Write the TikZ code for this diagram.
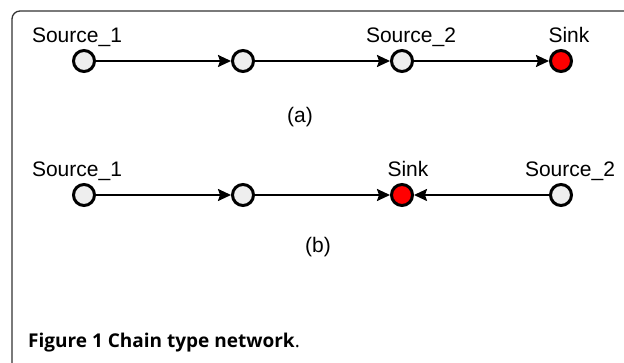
\documentclass[tikz,border=0pt]{standalone}
\usepackage{fontspec}
\setmainfont{Liberation Sans}
\newfontfamily\capfont{Open Sans}
\usetikzlibrary{positioning, arrows.meta}
\definecolor{nodegray}{HTML}{EEEEEE}
\definecolor{sinkred}{HTML}{FF0000}
\definecolor{framegray}{HTML}{333333}
\tikzset{hop/.style={circle, draw=black, line width=3pt, minimum size=21pt, inner sep=0pt, fill=nodegray}}
\tikzset{sinkhop/.style={hop, fill=sinkred}}
\tikzset{lbl/.style={inner sep=0pt, font=\fontsize{21}{24}\selectfont, anchor=base}}
\tikzset{sub/.style={inner sep=0pt, font=\fontsize{21}{24}\selectfont}}
\tikzset{arr/.style={draw, line width=2pt, -{Stealth[length=13pt, width=12pt, inset=2pt]}}}

\begin{document}
\begin{tikzpicture}[x=1pt, y=1pt]
	\useasboundingbox (0,0) rectangle (624,363);
	\draw[framegray, line width=1.3pt, rounded corners=8pt] (12,0) -- (12,352) -- (624,352);
	% chain (a)
	\node[hop] (a1) at (84,302) {};
	\node[hop, right=135pt of a1] (a2) {};
	\node[hop, right=135pt of a2] (a3) {};
	\node[sinkhop, right=135pt of a3] (a4) {};
	\draw[arr] (a1) -- (a2);
	\draw[arr] (a2) -- (a3);
	\draw[arr] (a3) -- (a4);
	\node[lbl] (la1) at ([xshift=-7pt, yshift=6pt]a1.north) {Source\_1};
	\node[lbl] (la3) at ([xshift=9pt, yshift=6pt]a3.north) {Source\_2};
	\node[lbl] (la4) at ([xshift=8pt, yshift=6pt]a4.north) {Sink};
	\node[sub] (capa) at (300,246) {(a)};
	% chain (b)
	\node[hop] (b1) at (84,168) {};
	\node[hop, right=135pt of b1] (b2) {};
	\node[sinkhop, right=135pt of b2] (b3) {};
	\node[hop, right=135pt of b3] (b4) {};
	\draw[arr] (b1) -- (b2);
	\draw[arr] (b2) -- (b3);
	\draw[arr] (b4) -- (b3);
	\node[lbl] (lb1) at ([xshift=-7pt, yshift=6pt]b1.north) {Source\_1};
	\node[lbl] (lb3) at ([xshift=6pt, yshift=6pt]b3.north) {Sink};
	\node[lbl] (lb4) at ([xshift=9pt, yshift=6pt]b4.north) {Source\_2};
	\node[sub] (capb) at (318,116) {(b)};
	%
	\node[anchor=base west, inner sep=0pt, font=\capfont\fontsize{19}{22}\selectfont] (fig) at (28,15)
		{\bfseries Figure 1 Chain type network\mdseries.};
\end{tikzpicture}
\end{document}
